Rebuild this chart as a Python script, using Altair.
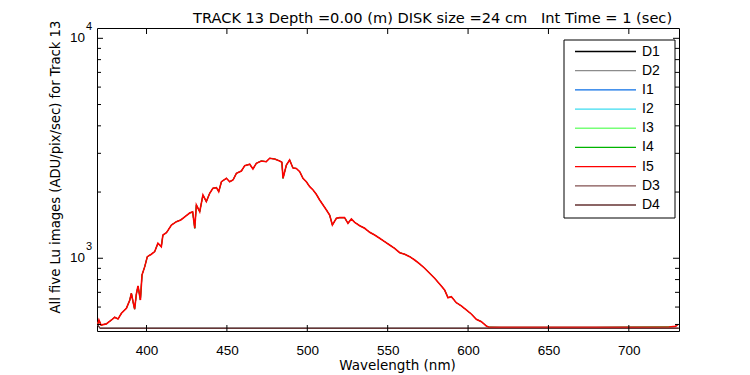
import altair as alt
import pandas as pd

# ---------------- data ----------------
WAVELENGTH = [369.5, 370.4, 371.7, 375.0, 378.2, 380.2, 382.3, 384.4, 387.5, 389.5,
              390.6, 391.6, 392.6, 393.7, 394.7, 396.2, 397.2, 398.9, 400.5, 403.0,
              405.1, 407.1, 409.2, 410.2, 412.4, 415.5, 418.6, 421.3, 424.4, 426.8,
              428.7, 430.0, 431.0, 433.1, 435.1, 437.2, 439.3, 441.3, 443.5, 444.9,
              446.6, 449.7, 451.7, 453.8, 455.9, 459.0, 461.1, 464.2, 466.2, 468.3,
              471.4, 474.5, 476.6, 479.7, 482.8, 484.2, 484.9, 487.0, 489.0, 491.1,
              493.2, 495.3, 497.3, 499.4, 501.5, 503.6, 505.6, 507.7, 509.8, 511.9,
              513.9, 515.6, 518.1, 520.1, 523.2, 525.3, 527.4, 529.5, 532.6, 535.7,
              538.8, 541.9, 545.0, 548.1, 551.2, 554.3, 557.5, 560.6, 563.7, 566.8,
              569.9, 573.0, 576.1, 579.2, 582.3, 585.4, 587.5, 589.6, 592.7, 595.8,
              598.9, 602.0, 605.1, 608.3, 611.4, 613.0, 620.0, 650.0, 680.0, 700.0,
              725.0, 729.0, 730.5]

# I1..I5 overlap almost exactly in the reference; one reading serves all five
I_COUNTS = [497, 524, 497, 503, 524, 539, 530, 562, 593, 642,
            693, 635, 587, 688, 748, 646, 840, 916, 1017, 1043,
            1072, 1170, 1129, 1276, 1307, 1417, 1467, 1493, 1556, 1606,
            1624, 1369, 1747, 1628, 1940, 1809, 1975, 2081, 2094, 2008,
            2229, 2310, 2229, 2269, 2434, 2493, 2636, 2675, 2546, 2703,
            2769, 2749, 2848, 2828, 2769, 2732, 2310, 2655, 2798, 2573,
            2560, 2475, 2310, 2229, 2116, 2045, 1954, 1841, 1747, 1658,
            1573, 1417, 1520, 1530, 1530, 1442, 1509, 1457, 1406, 1369,
            1313, 1276, 1233, 1190, 1149, 1110, 1060, 1043, 1017, 982,
            942, 901, 855, 811, 764, 718, 662, 669, 628, 607,
            582, 558, 528, 515, 492, 486, 485, 485, 485, 486,
            487, 490, 500]

D_WAVELENGTH = [369.5, 371.0, 731.0]
D1_COUNTS = [500, 481, 481]
D2_COUNTS = [500, 481, 481]
D3_COUNTS = [500, 481, 481]
D4_COUNTS = [500, 480, 480]

SERIES = ["D1", "D2", "I1", "I2", "I3", "I4", "I5", "D3", "D4"]
COLORS = ["#000000", "#8c8c8c", "#0a6ee6", "#3cdcf0", "#78ff78",
          "#00b400", "#ff0000", "#825050", "#643232"]

X_TICKS = [400, 450, 500, 550, 600, 650, 700]
Y_MAJOR = [1000, 10000]
Y_MINOR = [500, 600, 700, 800, 900, 2000, 3000, 4000, 5000, 6000, 7000, 8000, 9000]
Y_EXP = ["3", "4"]

TITLE = "TRACK 13 Depth =0.00 (m) DISK size =24 cm\u00a0\u00a0 Int Time = 1 (sec)"
X_TITLE = "Wavelength (nm)"
Y_TITLE = "All five Lu images (ADU/pix/sec) for Track 13"

# ---------------- build tables ----------------
rows = []
for s in SERIES:
    if s.startswith("I"):
        for w, v in zip(WAVELENGTH, I_COUNTS):
            rows.append({"series": s, "wl": w, "val": v})
    else:
        vals = {"D1": D1_COUNTS, "D2": D2_COUNTS, "D3": D3_COUNTS, "D4": D4_COUNTS}[s]
        for w, v in zip(D_WAVELENGTH, vals):
            rows.append({"series": s, "wl": w, "val": v})
df = pd.DataFrame(rows)

W, H = 582, 303
FONT = "Liberation Sans"
FONT2 = "DejaVu Sans"

xscale = alt.Scale(domain=[369.2, 731.2], nice=False, zero=False)
yscale = alt.Scale(type="log", domain=[467, 11140], nice=False)
cscale = alt.Scale(domain=SERIES, range=COLORS)

x_axis = alt.Axis(values=X_TICKS, title=X_TITLE, ticks=False, domain=False, grid=False,
                  labelPadding=12, labelFont=FONT, labelFontSize=13.5, labelColor="black",
                  titleFont=FONT2, titleFontSize=13.5, titleFontWeight="normal",
                  titleColor="black", titlePadding=2, titleX=300, titleAlign="center")
y_axis = alt.Axis(title=Y_TITLE, labels=False, ticks=False, domain=False, grid=False,
                  titleFont=FONT2, titleFontSize=13.2, titleFontWeight="normal",
                  titleColor="black", titleAngle=270, titleAlign="left",
                  titleBaseline="alphabetic", titleX=-38, titleY=285)

layers = []
for i, s in enumerate(SERIES):
    layers.append(
        alt.Chart(df).transform_filter(alt.datum.series == s).mark_line(
            strokeWidth=1.6 if s == "I5" else 1, clip=True
        ).encode(
            x=alt.X("wl:Q", scale=xscale, axis=x_axis),
            y=alt.Y("val:Q", scale=yscale, axis=y_axis if i == 0 else None),
            color=alt.Color("series:N", scale=cscale, legend=None),
        )
    )

xt = pd.DataFrame({"v": X_TICKS})
ymaj = pd.DataFrame({"v": Y_MAJOR, "e": Y_EXP})
ymin = pd.DataFrame({"v": Y_MINOR})

tick_x_bottom = alt.Chart(xt).mark_rule(color="black").encode(
    x=alt.X("v:Q", scale=xscale, axis=x_axis), y=alt.value(H), y2=alt.value(H - 6))
tick_x_top = alt.Chart(xt).mark_rule(color="black").encode(
    x=alt.X("v:Q", scale=xscale, axis=x_axis), y=alt.value(0), y2=alt.value(6))
tick_y_left = alt.Chart(ymaj).mark_rule(color="black").encode(
    y=alt.Y("v:Q", scale=yscale, axis=None), x=alt.value(0), x2=alt.value(6))
tick_y_right = alt.Chart(ymaj).mark_rule(color="black").encode(
    y=alt.Y("v:Q", scale=yscale, axis=None), x=alt.value(W - 6), x2=alt.value(W))
mtick_y_left = alt.Chart(ymin).mark_rule(color="black").encode(
    y=alt.Y("v:Q", scale=yscale, axis=None), x=alt.value(0), x2=alt.value(4))
mtick_y_right = alt.Chart(ymin).mark_rule(color="black").encode(
    y=alt.Y("v:Q", scale=yscale, axis=None), x=alt.value(W - 4), x2=alt.value(W))

ylab_base = alt.Chart(ymaj).mark_text(
    align="right", baseline="middle", font=FONT, fontSize=13.5, color="black"
).encode(y=alt.Y("v:Q", scale=yscale, axis=None), x=alt.value(-12), text=alt.value("10"))
ylab_exp = alt.Chart(ymaj).mark_text(
    align="left", baseline="alphabetic", font=FONT, fontSize=11, color="black", dy=-8
).encode(y=alt.Y("v:Q", scale=yscale, axis=None), x=alt.value(-11), text="e:N")

title_txt = alt.Chart(pd.DataFrame({"t": [TITLE]})).mark_text(
    align="left", baseline="alphabetic", font=FONT2, fontSize=14.6, color="black"
).encode(x=alt.value(96), y=alt.value(-5), text="t:N")

# legend drawn from the series list
leg_df = pd.DataFrame({"series": SERIES})
row_scale = alt.Scale(type="point", domain=SERIES, range=[23.5, 177], padding=0)
leg_box = alt.Chart(pd.DataFrame({"a": [0]})).mark_rect(
    fill="white", stroke="black", strokeWidth=1
).encode(x=alt.value(467), x2=alt.value(578), y=alt.value(12), y2=alt.value(190))
leg_lines = alt.Chart(leg_df).mark_rule(strokeWidth=1.3).encode(
    y=alt.Y("series:N", scale=row_scale, axis=None),
    x=alt.value(478), x2=alt.value(539),
    color=alt.Color("series:N", scale=cscale, legend=None))
leg_text = alt.Chart(leg_df).mark_text(
    align="left", baseline="middle", font=FONT, fontSize=14, color="black"
).encode(y=alt.Y("series:N", scale=row_scale, axis=None), x=alt.value(545), text="series:N")

chart = alt.layer(
    *layers, tick_x_bottom, tick_x_top, tick_y_left, tick_y_right,
    mtick_y_left, mtick_y_right, ylab_base, ylab_exp, title_txt,
    leg_box, leg_lines, leg_text
).resolve_scale(y="independent").properties(
    width=W, height=H,
    autosize=alt.AutoSizeParams(type="none"),
    padding={"left": 89, "top": 20, "right": 60, "bottom": 44},
).configure(background="white").configure_view(stroke="black", strokeWidth=1)

chart.save("out.html", embed_options={"renderer": "svg", "actions": False})
